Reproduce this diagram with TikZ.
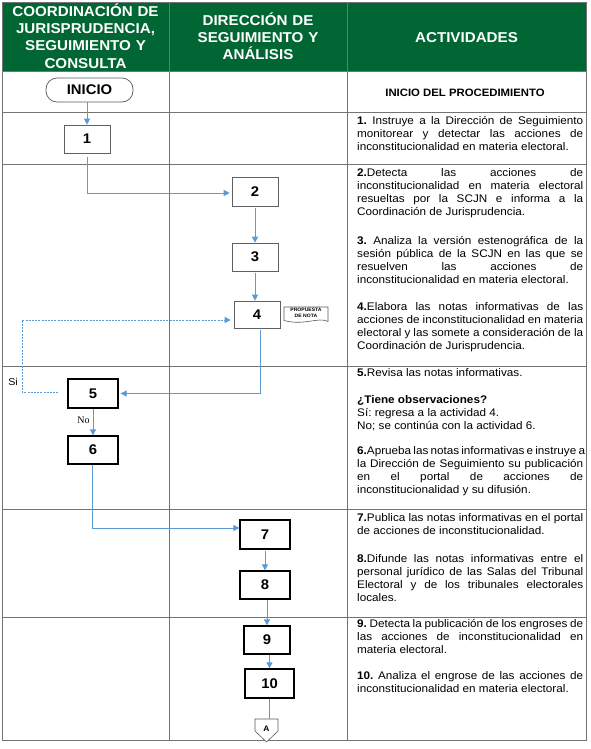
\documentclass[tikz,border=0pt]{standalone}
\usepackage{fontspec}
\setmainfont[FakeStretch=1.06]{Liberation Sans}
\newfontfamily\serifface{Liberation Serif}
\usetikzlibrary{arrows.meta,shadows}
\definecolor{hdrgreen}{RGB}{0,102,51}
\definecolor{arrblue}{RGB}{91,155,213}
\definecolor{gridgray}{RGB}{115,115,115}
\frenchspacing
\newcommand{\jline}[1]{\makebox[226pt][s]{\spaceskip=0pt\xspaceskip=0pt\relax #1}\\}
\begin{document}
\begin{tikzpicture}[x=1pt,y=-1pt,
  gridline/.style={draw=gridgray, line width=0.8pt},
  hdr/.style={text=white, font=\fontsize{14.3}{17.2}\selectfont\bfseries, align=center, text width=#1, inner sep=0pt, anchor=base},
  numfont/.style={font=\fontsize{14}{14}\selectfont\bfseries},
  thinbox/.style={numfont, draw=gray!75!black, line width=0.6pt, fill=white, inner sep=0pt,
    drop shadow={shadow xshift=1pt, shadow yshift=-1pt, fill=gray!45, opacity=1}},
  thickbox/.style={numfont, draw=black, line width=1.3pt, fill=white, inner sep=0pt},
  arr/.style={draw=arrblue, line width=0.8pt, -{Triangle[length=6pt,width=6pt]}},
  plainline/.style={draw=arrblue, line width=0.8pt},
  dotarr/.style={draw=arrblue, line width=0.8pt, dash pattern=on 2pt off 1.2pt, -{Triangle[length=6pt,width=6pt]}},
  act/.style={anchor=base west, text width=226pt, align=justify, inner sep=0pt, font=\fontsize{11.05}{13}\selectfont},
  shapeline/.style={draw=gray!70!black, line width=0.6pt, fill=white},
]
\useasboundingbox (0,0) rectangle (590,749);
\fill[white] (0,0) rectangle (590,749);

% header
\fill[hdrgreen] (2,2) rectangle (586,71);

% grid
\draw[gridline] (2,2) rectangle (586,740);
\draw[gridline] (169,2) -- (169,740);
\draw[gridline] (347,2) -- (347,740);
\foreach \yy in {71,112,164,366,509,617} {
  \draw[gridline] (2,\yy) -- (586,\yy);
}

% header texts
\node[hdr=166pt] (h1) at (85.5,16.5) {COORDINACIÓN DE\\JURISPRUDENCIA,\\SEGUIMIENTO Y\\CONSULTA};
\node[hdr=172pt] (h2) at (258,25.5) {DIRECCIÓN DE\\SEGUIMIENTO Y\\ANÁLISIS};
\node[hdr=230pt] (h3) at (466.5,42.5) {ACTIVIDADES};

% start
\node[draw=gray!70!black, line width=0.7pt, fill=white, rounded corners=11pt, minimum width=87pt, minimum height=24pt, inner sep=0pt, numfont] (ini) at (89.5,90) {INICIO};
\node[font=\fontsize{10.7}{11}\selectfont\bfseries, anchor=base, inner sep=0pt] (inip) at (465,96.5) {INICIO DEL PROCEDIMIENTO};

% boxes
\node[thinbox, minimum width=46pt, minimum height=28pt] (b1) at (87,139) {1};
\node[thinbox, minimum width=46pt, minimum height=29pt] (b2) at (255,191.5) {2};
\node[thinbox, minimum width=46pt, minimum height=28pt] (b3) at (255,257) {3};
\node[thinbox, minimum width=46pt, minimum height=27pt] (b4) at (257,314.5) {4};
\node[thickbox, minimum width=50pt, minimum height=29pt] (b5) at (93,393.5) {5};
\node[thickbox, minimum width=50pt, minimum height=28pt] (b6) at (93,450) {6};
\node[thickbox, minimum width=50pt, minimum height=29pt] (b7) at (265,534.5) {7};
\node[thickbox, minimum width=50pt, minimum height=28pt] (b8) at (265,585) {8};
\node[thickbox, minimum width=46pt, minimum height=28pt] (b9) at (267,640) {9};
\node[thickbox, minimum width=49pt, minimum height=29pt] (b10) at (269.5,683.5) {10};

% document shape
\draw[shapeline] (284,307) -- (328,307) -- (328,321.5) .. controls (318,316.5) and (305,326) .. (284,320.5) -- cycle;
\node[font=\fontsize{4.8}{5.5}\selectfont\bfseries, align=center, inner sep=0pt] (doc) at (306,313) {PROPUESTA\\DE NOTA};

% off-page connector
\draw[shapeline] (255,719) -- (278,719) -- (278,731) -- (266.5,742) -- (255,731) -- cycle;
\node[font=\fontsize{8}{8}\selectfont\bfseries, inner sep=0pt] (conA) at (266.5,728.5) {A};
\coordinate (Atop) at (266.5,719);
\coordinate (loopc) at (22,320);

% connectors
\draw[arr] (b1.north |- ini.south) -- (b1.north);
\draw[arr] ([yshift=-4pt]b1.south) |- ([xshift=-2pt,yshift=-1.5pt]b2.west);
\draw[arr] ([yshift=-2pt]b2.south) -- (b3.north);
\draw[arr] ([yshift=-2pt]b3.south) -- (b3.south |- b4.north);
\draw[arr] ([xshift=3pt,yshift=-2pt]b4.south) |- ([xshift=2pt]b5.east);
\draw[dotarr] ([xshift=-9pt,yshift=1.5pt]b5.west) -| (loopc) -- ([xshift=-3pt,yshift=-5.5pt]b4.west);
\draw[arr] (b5.south) -- (b6.north);
\draw[arr] ([xshift=-1pt]b6.south) |- ([yshift=6.5pt]b7.west);
\draw[arr] ([yshift=-1pt]b7.south) -- (b8.north);
\draw[arr] (b8.south -| b9.north) -- (b9.north);
\draw[arr] (b9.south -| b10.north) -- (b10.north);
\draw[plainline] (b10.south) -- (b10.south |- Atop);

% branch labels
\node[font=\fontsize{10}{10}\selectfont, inner sep=0pt] (si) at (13,382) {Si};
\node[font=\serifface\fontsize{10}{10}\selectfont, inner sep=0pt] (no) at (83.5,420) {No};

% activities
\node[act] (t1) at (357,124.5) {\jline{\textbf{1.} Instruye a la Dirección de Seguimiento}\jline{monitorear y detectar las acciones de}inconstitucionalidad en materia electoral.};
\node[act] (t2) at (357,176.5) {\jline{\textbf{2.}Detecta las acciones de}\jline{inconstitucionalidad en materia electoral}\jline{resueltas por la SCJN e informa a la}Coordinación de Jurisprudencia.};
\node[act] (t3) at (357,244) {\jline{\textbf{3.} Analiza la versión estenográfica de la}\jline{sesión pública de la SCJN en las que se}\jline{resuelven las acciones de}inconstitucionalidad en materia electoral.};
\node[act] (t4) at (357,310) {\jline{\textbf{4.}Elabora las notas informativas de las}\jline{acciones de inconstitucionalidad en materia}\jline{electoral y las somete a consideración de la}Coordinación de Jurisprudencia.};
\node[act] (t5) at (357,376.5) {\textbf{5.}Revisa las notas informativas.};
\node[act, align=left] (t5b) at (357,403) {\spaceskip=0pt\xspaceskip=0pt\relax\textbf{¿Tiene observaciones?}\\Sí: regresa a la actividad 4.\\No; se continúa con la actividad 6.};
\node[act] (t6) at (357,454) {\jline{\textbf{6.}Aprueba las notas informativas e instruye a}\jline{la Dirección de Seguimiento su publicación}\jline{en el portal de acciones de}inconstitucionalidad y su difusión.};
\node[act] (t7) at (357,521.5) {\jline{\textbf{7.}Publica las notas informativas en el portal}de acciones de inconstitucionalidad.};
\node[act] (t8) at (357,562) {\jline{\textbf{8.}Difunde las notas informativas entre el}\jline{personal jurídico de las Salas del Tribunal}\jline{Electoral y de los tribunales electorales}locales.};
\node[act] (t9) at (357,627) {\jline{\textbf{9.} Detecta la publicación de los engroses de}\jline{las acciones de inconstitucionalidad en}materia electoral.};
\node[act] (t10) at (357,679.5) {\jline{\textbf{10.} Analiza el engrose de las acciones de}inconstitucionalidad en materia electoral.};
\end{tikzpicture}
\end{document}
